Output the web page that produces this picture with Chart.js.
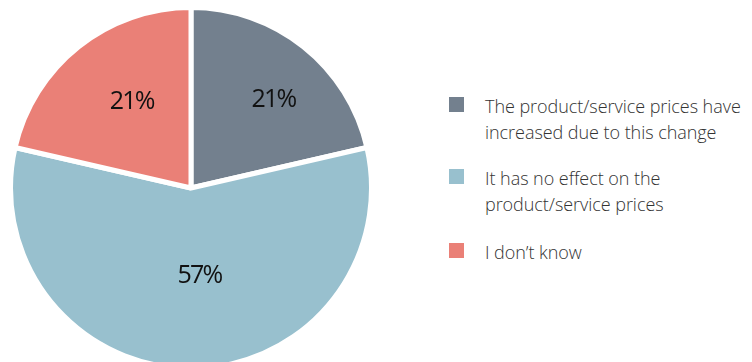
<!DOCTYPE html>
<html>
<head>
<meta charset="utf-8">
<script src="https://cdn.jsdelivr.net/npm/chart.js@4.4.1/dist/chart.umd.min.js"></script>
<style>
  html, body { margin: 0; padding: 0; background: #fff; overflow: hidden; width: 752px; height: 362px; }
  #pieBox { position: absolute; left: 8px; top: 5px; width: 366px; height: 366px; }
  #leyenda { position: absolute; left: 449px; top: 0; font-family: "Open Sans", sans-serif; font-weight: 300; font-size: 18px; color: #333; }
  .item { position: absolute; left: 0; width: 300px; }
  .item .cuadro { position: absolute; left: 0; top: 5px; width: 15px; height: 15px; }
  .item .texto { position: absolute; left: 36px; top: 2px; line-height: 25.5px; white-space: nowrap; letter-spacing: -0.05px; }
</style>
</head>
<body>
<div id="pieBox"><canvas id="pie-chart"></canvas></div>
<div id="leyenda"></div>
<script>
// Datos del gráfico
var categorias = [
  ["The product/service prices have", "increased due to this change"],
  ["It has no effect on the", "product/service prices"],
  ["I don\u2019t know"]
];
var valores = [21.4, 57.2, 21.4];
var colores = ["#73808e", "#98c0ce", "#ea8077"];

// posición de las etiquetas dentro de cada porción (fracción del radio, giro en grados)
var radioEtiqueta = [0.67, 0.49, 0.58];
var giroEtiqueta = [4.4, -5.5, 4];

var topLeyenda = [92, 164, 238];

var leyenda = document.getElementById('leyenda');
var html = "";
for (var i = 0; i < categorias.length; i++) {
  html += '<div class="item" style="top:' + topLeyenda[i] + 'px"><div class="cuadro" style="background:' + colores[i] + '"></div><div class="texto">' + categorias[i].join('<br>') + '</div></div>';
}
leyenda.innerHTML = html;

var etiquetasPlugin = {
  id: 'etiquetas',
  afterDatasetsDraw: function (chart) {
    var ctx = chart.ctx;
    var meta = chart.getDatasetMeta(0);
    ctx.save();
    ctx.font = '400 25px "Open Sans", sans-serif';
    ctx.letterSpacing = '-1.8px';
    ctx.fillStyle = '#111';
    ctx.textAlign = 'center';
    ctx.textBaseline = 'middle';
    meta.data.forEach(function (arc, i) {
      var p = arc.getProps(['x', 'y', 'startAngle', 'endAngle', 'outerRadius'], true);
      var ang = (p.startAngle + p.endAngle) / 2 + giroEtiqueta[i] * Math.PI / 180;
      var r = p.outerRadius * radioEtiqueta[i];
      var texto = Math.round(valores[i]) + '%';
      ctx.fillText(texto, p.x + Math.cos(ang) * r, p.y + Math.sin(ang) * r);
    });
    ctx.restore();
  }
};

new Chart(document.getElementById("pie-chart"), {
  type: 'pie',
  data: {
    labels: categorias,
    datasets: [
      {
        data: valores,
        backgroundColor: colores,
        borderColor: '#ffffff',
        borderWidth: 5
      }
    ]
  },
  options: {
    responsive: true,
    maintainAspectRatio: false,
    animation: false,
    layout: { padding: 0 },
    plugins: {
      legend: { display: false },
      tooltip: { enabled: false }
    }
  },
  plugins: [etiquetasPlugin]
});
</script>
</body>
</html>
